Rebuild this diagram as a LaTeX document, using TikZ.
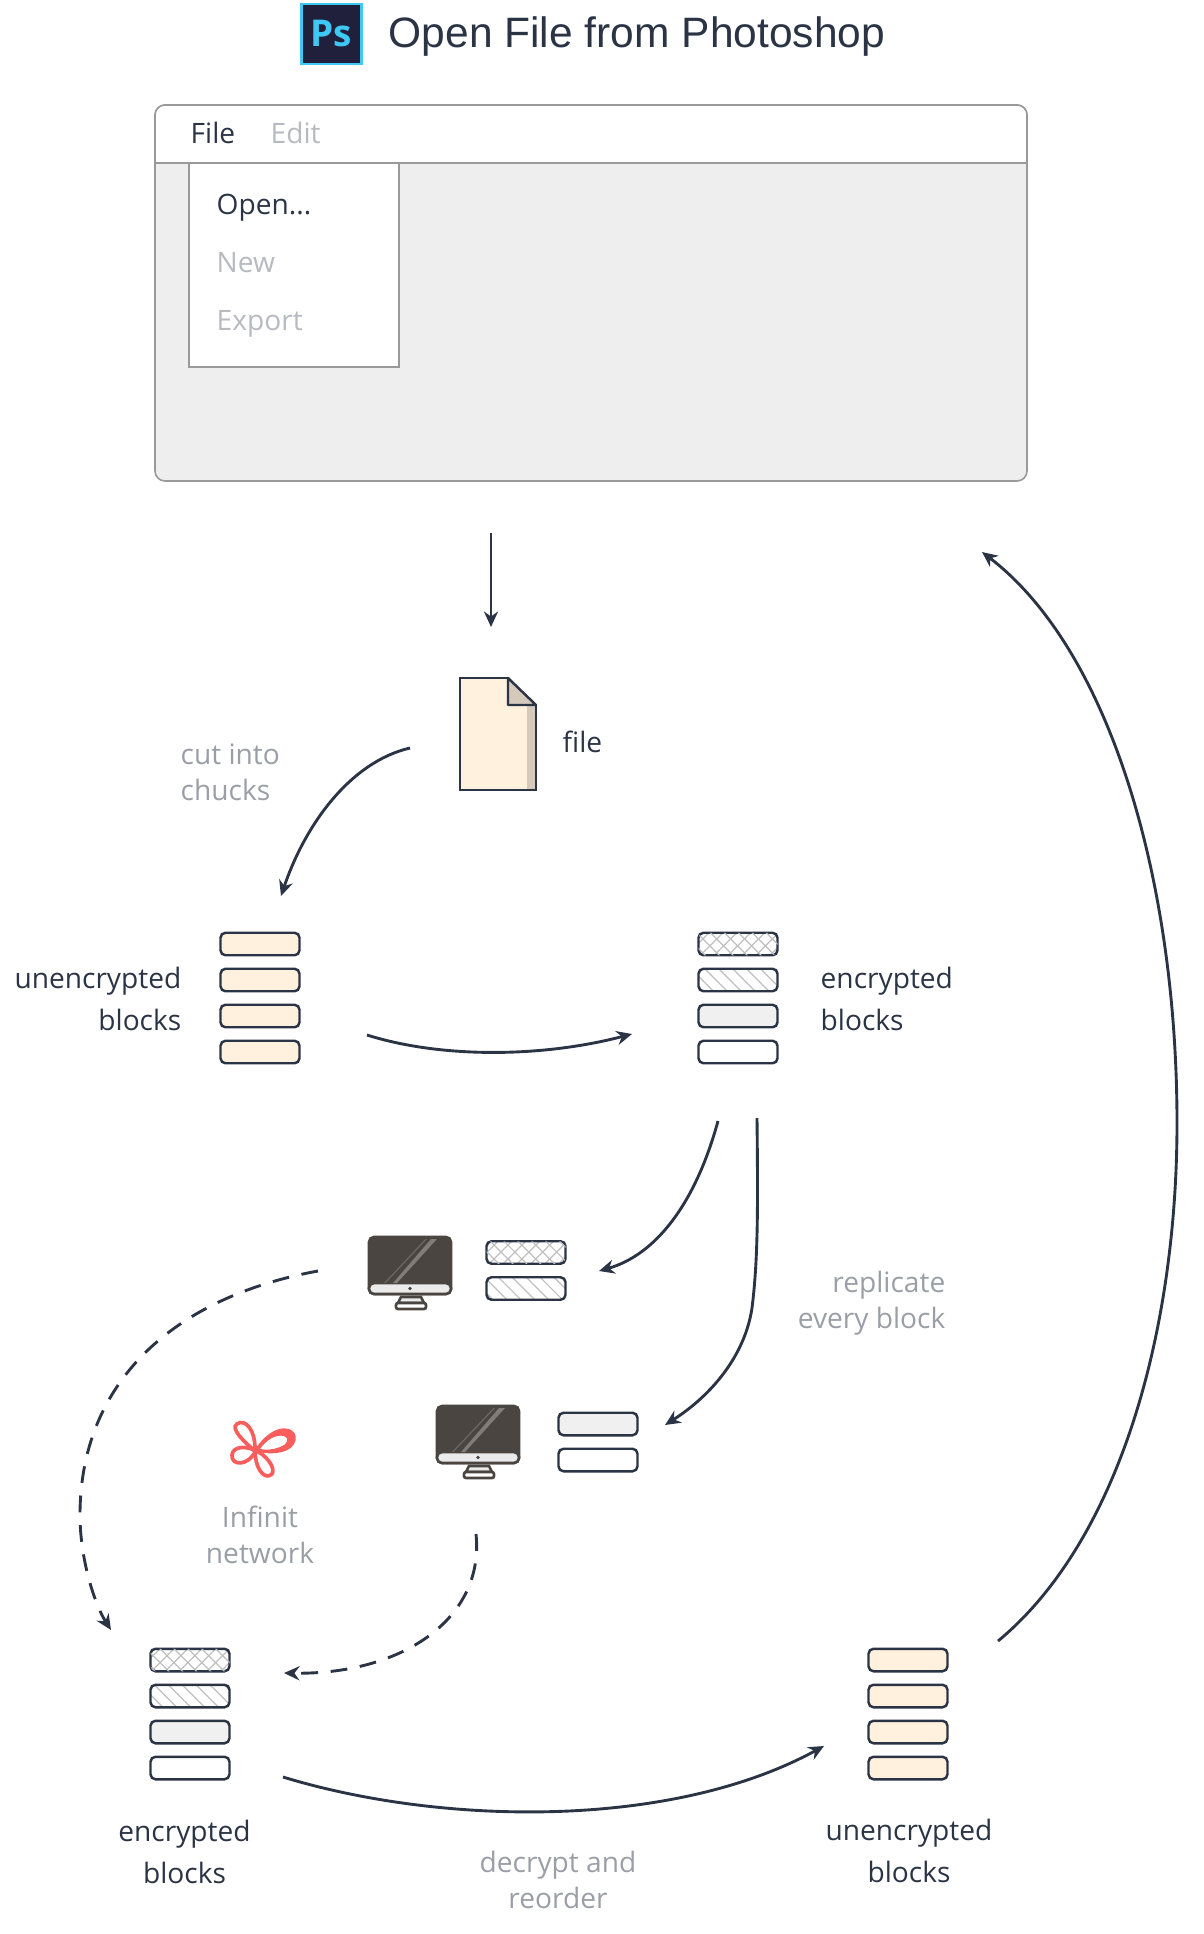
\documentclass[tikz,border=0pt]{standalone}
\usepackage{fontspec}
\setmainfont{Open Sans}
\newfontfamily\titlefont{Liberation Sans}
\usetikzlibrary{arrows.meta,patterns.meta}
\definecolor{ink}{HTML}{2B3445}
\definecolor{mute}{HTML}{9A9FA7}
\definecolor{faint}{HTML}{B8BAC0}
\definecolor{edge}{HTML}{999999}
\definecolor{cream}{HTML}{FFF1DE}
\definecolor{foldtone}{HTML}{D4C9BB}
\definecolor{screen}{HTML}{4A4540}
\definecolor{petal}{HTML}{F95E5C}
\definecolor{psback}{HTML}{20203C}
\definecolor{psline}{HTML}{3FC8F4}
\begin{document}
\begin{tikzpicture}
    \tikzset{
        every node/.style={font=\fontsize{8}{10}\selectfont, text=ink, inner sep=0pt},
        note/.style={text=mute},
        menuon/.style={anchor=base west},
        menuoff/.style={anchor=base west, text=faint},
        chunk/.style={draw=ink, line width=0.7pt, rounded corners=0.05cm, minimum width=0.79cm, minimum height=0.225cm},
        plainchunk/.style={chunk, fill=white},
        creamchunk/.style={chunk, fill=cream},
        greychunk/.style={chunk, fill=black!6},
        crosschunk/.style={chunk, pattern={Lines[angle=45,distance=2.8pt,line width=0.35pt]}, pattern color=black!25,
            postaction={pattern={Lines[angle=-45,distance=2.8pt,line width=0.35pt]}, pattern color=black!25}},
        slashchunk/.style={chunk, pattern={Lines[angle=-45,distance=2.8pt,line width=0.35pt]}, pattern color=black!25},
        flow/.style={draw=ink, line width=0.82pt, -{Stealth[length=4.4pt,width=4pt]}},
        dashflow/.style={flow, dash pattern=on 4.8pt off 3.6pt},
        loopline/.style={draw=petal, line width=1.05pt},
        monitor/.pic={
            \draw[draw=screen, line width=0.75pt, fill=black!8] (0.32,-0.60) -- (0.52,-0.60) -- (0.55,-0.66) -- (0.29,-0.66) -- cycle;
            \draw[draw=screen, line width=0.75pt, fill=white, rounded corners=0.02cm] (0.27,-0.66) rectangle (0.57,-0.72);
            \draw[draw=screen, line width=0.75pt, fill=screen, rounded corners=0.05cm] (0,0) rectangle (0.82,-0.57);
            \draw[draw=screen, line width=0.75pt, fill=black!8, rounded corners=0.05cm] (0,-0.46) -- (0,-0.57) -- (0.82,-0.57) -- (0.82,-0.46) -- cycle;
            \fill[screen] (0.41,-0.515) circle (0.018);
            \fill[white!30!screen] (0.24,-0.46) -- (0.28,-0.46) -- (0.68,-0.02) -- (0.62,-0.02) -- cycle;
            \fill[white!20!screen] (0.15,-0.46) -- (0.165,-0.46) -- (0.58,-0.02) -- (0.565,-0.02) -- cycle;
        }
    }
    \useasboundingbox (0,0) rectangle (12.04,-19.34);
    % title
    \node[draw=psline, line width=0.8pt, fill=psback, minimum width=0.6cm, minimum height=0.6cm,
        text=psline, font=\fontsize{10.5}{11}\selectfont\bfseries] (psicon) at (3.315,-0.34) {Ps};
    \node[anchor=base west, font=\titlefont\fontsize{12.1}{14}\selectfont] (title) at (3.88,-0.48) {Open File from Photoshop};
    % window
    \draw[draw=edge, line width=0.45pt, fill=black!6.5, rounded corners=0.1cm] (1.55,-1.05) rectangle (10.27,-4.81);
    \fill[white, rounded corners=0.1cm] (1.55,-1.30) -- (1.55,-1.05) -- (10.27,-1.05) -- (10.27,-1.30) -- cycle;
    \fill[white] (1.55,-1.25) rectangle (10.27,-1.63);
    \draw[draw=edge, line width=0.45pt, rounded corners=0.1cm] (1.55,-1.63) -- (1.55,-1.05) -- (10.27,-1.05) -- (10.27,-1.63);
    \draw[draw=edge, line width=0.45pt] (1.55,-1.63) -- (10.27,-1.63);
    \draw[draw=edge, line width=0.45pt, fill=white] (1.89,-1.63) rectangle (3.99,-3.67);
    \node[menuon] (filemenu) at (1.90,-1.43) {File};
    \node[menuoff] (editmenu) at (2.70,-1.43) {Edit};
    \node[menuon] (openitem) at (2.16,-2.14) {Open...};
    \node[menuoff] (newitem) at (2.16,-2.72) {New};
    \node[menuoff] (exportitem) at (2.16,-3.30) {Export};
    % file
    \fill[cream] (4.60,-6.78) -- (5.08,-6.78) -- (5.36,-7.05) -- (5.36,-7.90) -- (4.60,-7.90) -- cycle;
    \fill[foldtone] (5.27,-7.05) rectangle (5.36,-7.90);
    \draw[fill=foldtone, draw=ink, line width=0.7pt, line join=round] (5.08,-6.78) -- (5.36,-7.05) -- (5.08,-7.05) -- cycle;
    \draw[draw=ink, line width=0.7pt, line join=miter] (5.08,-6.78) -- (4.60,-6.78) -- (4.60,-7.90) -- (5.36,-7.90) -- (5.36,-7.05);
    \node[anchor=base west] (filelabel) at (5.62,-7.52) {file};
    \node[note, anchor=base west] (cutlabel) at (1.80,-7.64) {cut into};
    \node[note, anchor=base west] (cutlabelb) at (1.80,-8.00) {chucks};
    % unencrypted blocks
    \node[creamchunk] (ua) at (2.60,-9.44) {};
    \node[creamchunk] (ub) at (2.60,-9.80) {};
    \node[creamchunk] (uc) at (2.60,-10.16) {};
    \node[creamchunk] (ud) at (2.60,-10.52) {};
    \node[anchor=base east] (ulabel) at (1.82,-9.88) {unencrypted};
    \node[anchor=base east] (ulabelb) at (1.82,-10.30) {blocks};
    % encrypted blocks
    \node[crosschunk] (ea) at (7.38,-9.44) {};
    \node[slashchunk] (eb) at (7.38,-9.80) {};
    \node[greychunk] (ec) at (7.38,-10.16) {};
    \node[plainchunk] (ed) at (7.38,-10.52) {};
    \node[anchor=base west] (elabel) at (8.20,-9.88) {encrypted};
    \node[anchor=base west] (elabelb) at (8.20,-10.30) {blocks};
    % first machine
    \pic (mona) at (3.69,-12.37) {monitor};
    \node[crosschunk] (ra) at (5.26,-12.525) {};
    \node[slashchunk] (rb) at (5.26,-12.885) {};
    % second machine
    \pic (monb) at (4.37,-14.06) {monitor};
    \node[greychunk] (rc) at (5.98,-14.24) {};
    \node[plainchunk] (rd) at (5.98,-14.60) {};
    \node[note, anchor=base east] (replabel) at (9.46,-12.92) {replicate};
    \node[note, anchor=base east] (replabelb) at (9.46,-13.28) {every block};
    % network logo
    \draw[loopline] (2.54,-14.50) .. controls (2.44,-14.42) and (2.30,-14.28) .. (2.37,-14.24) .. controls (2.45,-14.18) and (2.56,-14.30) .. (2.55,-14.52);
    \fill[petal, even odd rule] (2.54,-14.51) .. controls (2.62,-14.38) and (2.76,-14.25) .. (2.89,-14.29) .. controls (3.00,-14.33) and (2.97,-14.47) .. (2.85,-14.51) .. controls (2.74,-14.55) and (2.62,-14.53) .. cycle
        (2.60,-14.49) .. controls (2.66,-14.40) and (2.76,-14.34) .. (2.84,-14.36) .. controls (2.90,-14.39) and (2.88,-14.44) .. (2.80,-14.47) .. controls (2.72,-14.50) and (2.66,-14.50) .. cycle;
    \draw[loopline] (2.54,-14.50) .. controls (2.46,-14.46) and (2.33,-14.46) .. (2.32,-14.55) .. controls (2.31,-14.66) and (2.48,-14.66) .. (2.55,-14.52);
    \draw[loopline] (2.54,-14.50) .. controls (2.66,-14.54) and (2.76,-14.68) .. (2.72,-14.74) .. controls (2.66,-14.80) and (2.56,-14.72) .. (2.55,-14.52);
    \node[note, anchor=base] (netlabel) at (2.60,-15.27) {Infinit};
    \node[note, anchor=base] (netlabelb) at (2.60,-15.63) {network};
    % received blocks
    \node[crosschunk] (da) at (1.90,-16.60) {};
    \node[slashchunk] (db) at (1.90,-16.96) {};
    \node[greychunk] (dc) at (1.90,-17.32) {};
    \node[plainchunk] (dd) at (1.90,-17.68) {};
    \node[anchor=base] (dlabel) at (1.845,-18.41) {encrypted};
    \node[anchor=base] (dlabelb) at (1.845,-18.83) {blocks};
    % restored blocks
    \node[creamchunk] (oa) at (9.08,-16.60) {};
    \node[creamchunk] (ob) at (9.08,-16.96) {};
    \node[creamchunk] (oc) at (9.08,-17.32) {};
    \node[creamchunk] (od) at (9.08,-17.68) {};
    \node[anchor=base] (olabel) at (9.09,-18.40) {unencrypted};
    \node[anchor=base] (olabelb) at (9.09,-18.82) {blocks};
    \node[note, anchor=base] (declabel) at (5.58,-18.72) {decrypt and};
    \node[note, anchor=base] (declabelb) at (5.58,-19.08) {reorder};
    % arrow ends
    \coordinate (opens) at (4.91,-5.33);
    \coordinate (opene) at (4.91,-6.27);
    \coordinate (cuts) at (4.10,-7.48);
    \coordinate (cute) at (2.81,-8.96);
    \coordinate (encs) at (3.67,-10.35);
    \coordinate (ence) at (6.32,-10.34);
    \coordinate (repas) at (7.18,-11.21);
    \coordinate (repae) at (5.99,-12.71);
    \coordinate (repbs) at (7.57,-11.18);
    \coordinate (repbe) at (6.65,-14.25);
    \coordinate (fetchas) at (3.18,-12.71);
    \coordinate (fetchae) at (1.11,-16.30);
    \coordinate (fetchbs) at (4.76,-15.34);
    \coordinate (fetchbe) at (2.84,-16.73);
    \coordinate (decs) at (2.83,-17.77);
    \coordinate (dece) at (8.24,-17.46);
    \coordinate (backs) at (9.98,-16.41);
    \coordinate (backe) at (9.82,-5.52);
    % arrows
    \draw[flow] (opens) -- (opene);
    \draw[flow] (cuts) .. controls (3.50,-7.62) and (3.05,-8.25) .. (cute);
    \draw[flow] (encs) .. controls (4.40,-10.58) and (5.40,-10.58) .. (ence);
    \draw[flow] (repas) .. controls (6.95,-12.05) and (6.55,-12.55) .. (repae);
    \draw[flow] (repbs) .. controls (7.58,-12.10) and (7.58,-12.60) .. (7.52,-13.08) .. controls (7.45,-13.55) and (7.12,-13.95) .. (repbe);
    \draw[dashflow] (fetchas) .. controls (1.70,-12.98) and (0.80,-13.85) .. (0.80,-15.15) .. controls (0.80,-15.60) and (0.95,-16.05) .. (fetchae);
    \draw[dashflow] (fetchbs) .. controls (4.85,-16.20) and (4.00,-16.75) .. (fetchbe);
    \draw[flow] (decs) .. controls (4.40,-18.25) and (6.70,-18.30) .. (dece);
    \draw[flow] (backs) .. controls (11.20,-15.40) and (11.77,-13.30) .. (11.77,-11.23) .. controls (11.77,-8.80) and (11.10,-6.50) .. (backe);
\end{tikzpicture}
\end{document}
